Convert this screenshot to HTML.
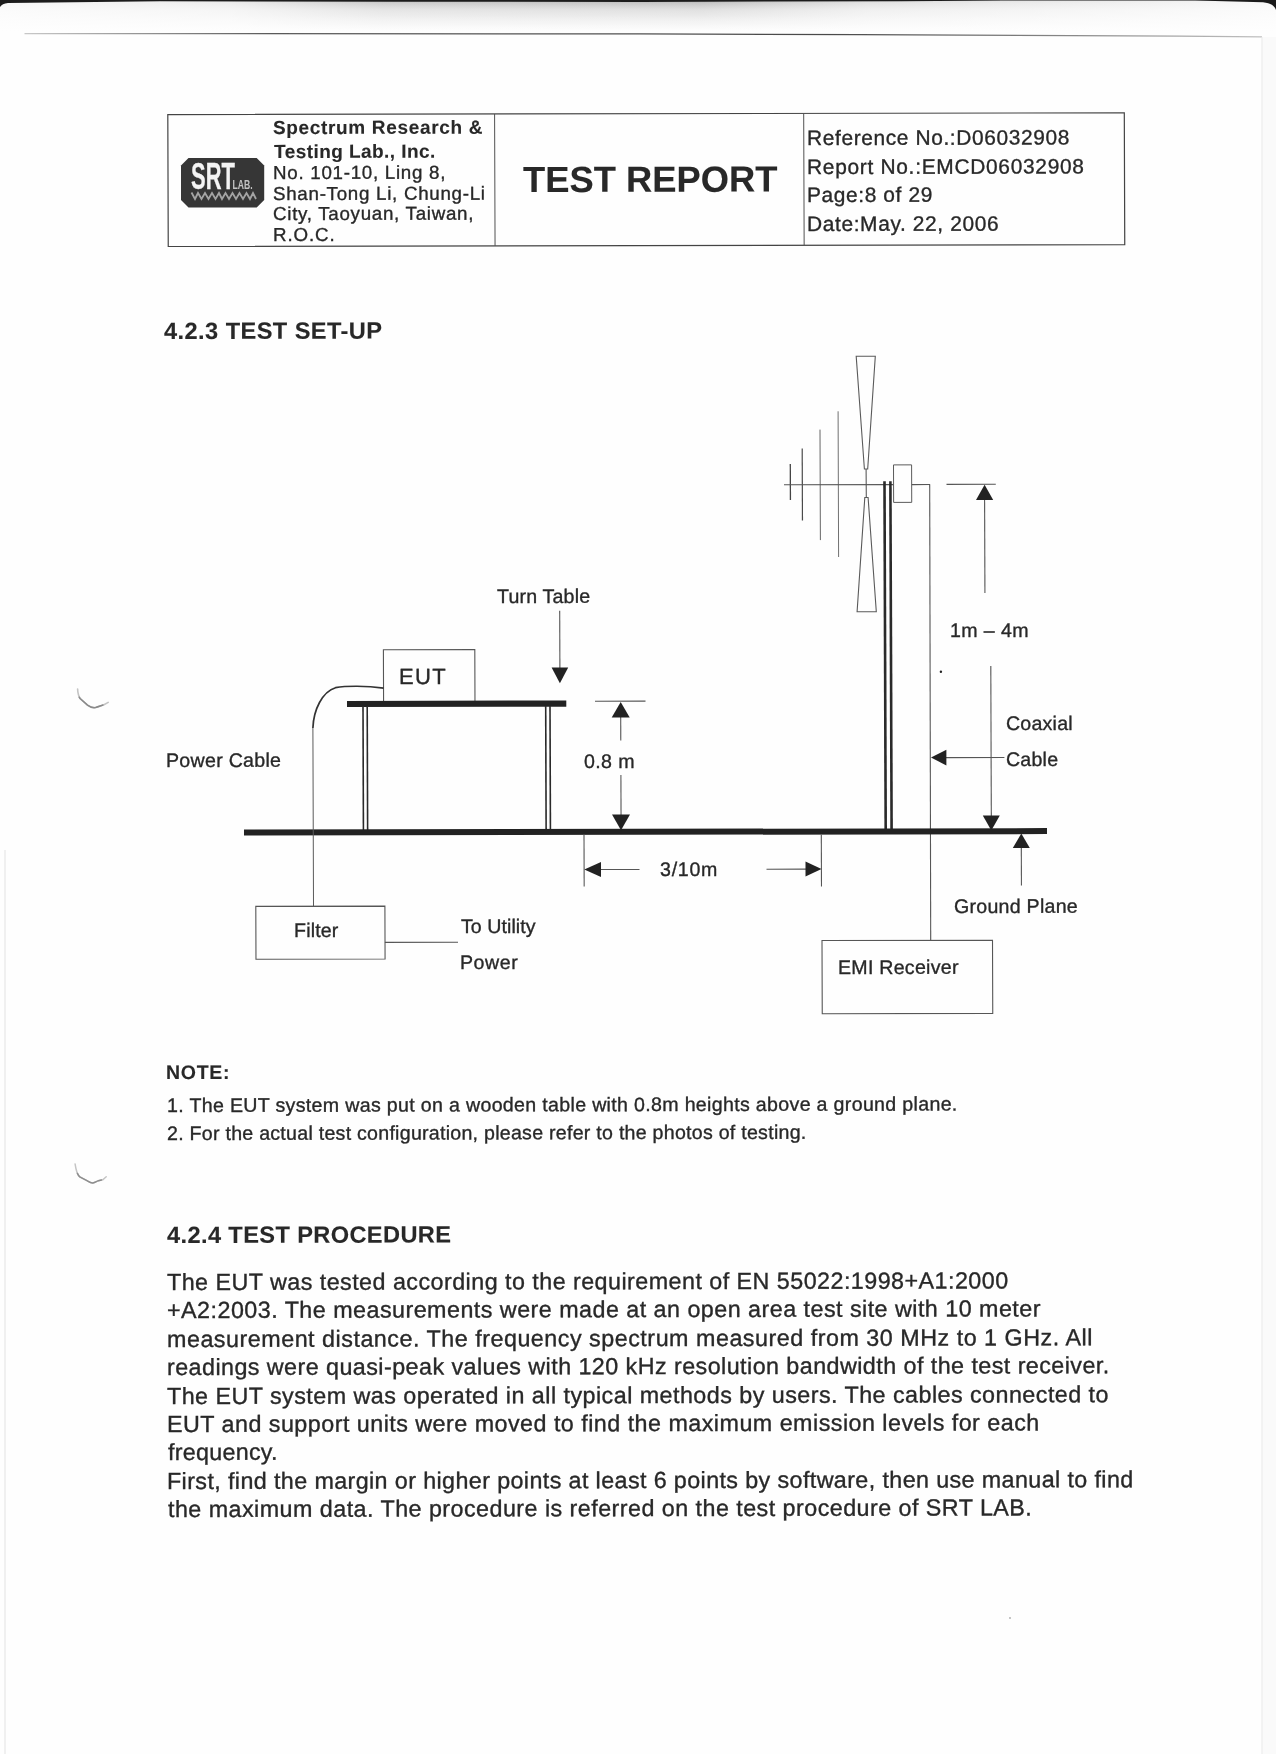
<!DOCTYPE html>
<html><head><meta charset="utf-8"><title>Test Report</title>
<style>
html,body{margin:0;padding:0;background:#fefefe;}
body{width:1276px;height:1754px;position:relative;overflow:hidden;background:#fefefe;font-family:"Liberation Sans",sans-serif;}
.t{position:absolute;white-space:pre;line-height:1;font-family:"Liberation Sans",sans-serif;transform:skewY(-0.1071deg);-webkit-text-stroke:0.35px #282828;}
.abs{position:absolute;}
#pg{position:absolute;left:0;top:0;width:1276px;height:1754px;filter:blur(0.45px);}
</style></head><body>
<!-- scan edge artifacts -->
<svg class="abs" style="left:0;top:0" width="1276" height="1754" viewBox="0 0 1276 1754">
<defs>
  <linearGradient id="gv" x1="0" y1="0" x2="0" y2="1">
    <stop offset="0" stop-color="#a8a8a8"/>
    <stop offset="0.1" stop-color="#c4c4c4"/>
    <stop offset="0.3" stop-color="#dedede"/>
    <stop offset="0.65" stop-color="#f0f0f0"/>
    <stop offset="1" stop-color="#fefefe"/>
  </linearGradient>
  <linearGradient id="gh" x1="0" y1="0" x2="1" y2="0">
    <stop offset="0" stop-color="#fefefe" stop-opacity="0.9"/>
    <stop offset="0.18" stop-color="#fefefe" stop-opacity="0.72"/>
    <stop offset="0.3" stop-color="#fefefe" stop-opacity="0.2"/>
    <stop offset="0.55" stop-color="#fefefe" stop-opacity="0.05"/>
    <stop offset="0.68" stop-color="#fefefe" stop-opacity="0.55"/>
    <stop offset="1" stop-color="#fefefe" stop-opacity="0.9"/>
  </linearGradient>
  <linearGradient id="gl" x1="0" y1="0" x2="1" y2="0">
    <stop offset="0" stop-color="#c8c8c8"/><stop offset="0.2" stop-color="#5a5a5a"/><stop offset="0.65" stop-color="#4a4a4a"/><stop offset="0.85" stop-color="#8a8a8a"/><stop offset="1" stop-color="#c0c0c0"/>
  </linearGradient>
</defs>
<rect x="0" y="0" width="1276" height="31" fill="url(#gv)"/>
<rect x="0" y="0" width="1276" height="32" fill="url(#gh)"/>
<!-- dark top rim -->
<path d="M0,0 L1010,0 L1010,0.5 L900,1.3 L640,1.9 L400,1.7 L160,1.3 L30,2.7 L8,3.1 C4,3.5 1.5,5 0,7 Z" fill="#1c1c1c"/>
<rect x="1000" y="0" width="220" height="1" fill="#7c7c7c"/>
<path d="M1195,0 L1276,0 L1276,10 C1274.5,6 1271,3 1263,2.2 L1215,1.0 Z" fill="#1a1a1a"/>
<!-- thin fold line -->
<path d="M24.5,33.6 L500,33.8 L640,33.95 L860,34.6 L1180,36.1 L1262,36.8" fill="none" stroke="url(#gl)" stroke-width="1.3"/>
<!-- right / left faint edges -->
<rect x="1262" y="37" width="14" height="1717" fill="#fafafa"/>
<line x1="1262" y1="37" x2="1262" y2="1754" stroke="#e9e9e9" stroke-width="1"/>
<line x1="5" y1="850" x2="5" y2="1754" stroke="#ebebeb" stroke-width="1.5"/>
<!-- punch-hole shadows -->
<path d="M77.6,689 C77.8,693 78.6,696.3 80.2,698.6 L87.5,705.1 C90,707 93,708 95.6,707.5 C98.6,706.8 101,705.5 104,704.8 L108.2,702.4" fill="none" stroke="#c4c4c4" stroke-width="1.6" stroke-linecap="round"/>
<path d="M79.2,697.2 C79.6,698 80,698.4 80.4,698.8 L87.5,705.1 C90,707 93,708 95.6,707.5 C98.6,706.8 100.5,705.7 103,705" fill="none" stroke="#8a8a8a" stroke-width="1.5" stroke-linecap="round"/>
<path d="M75.1,1164 C75.6,1167.5 76.2,1170 77,1172.4 C77.8,1174.4 78.6,1175.8 79.8,1176.9 L87.4,1180.9 C89.5,1182.2 91,1183.2 92.8,1183 C95,1182.6 96.5,1181.4 98.4,1180.7 L102.8,1179.7 L106.2,1176.8" fill="none" stroke="#c4c4c4" stroke-width="1.5" stroke-linecap="round"/>
<path d="M77.4,1173.4 C78,1174.8 78.8,1176 79.8,1176.9 L87.4,1180.9 C89.5,1182.2 91,1183.2 92.8,1183 C95,1182.6 96.5,1181.4 98.4,1180.7 L101.5,1180" fill="none" stroke="#8e8e8e" stroke-width="1.4" stroke-linecap="round"/>
<circle cx="1010" cy="1618" r="0.9" fill="#aaa"/>
</svg>

<div id="pg">
<svg class="abs" style="left:0;top:0" width="1276" height="1754" viewBox="0 0 1276 1754" fill="none">
<polygon points="167.80,114.60 1124.30,112.81 1124.75,244.71 168.25,246.50" fill="none" stroke="#444" stroke-width="1.2"/>
<line x1="494.60" y1="114.0" x2="495.05" y2="245.9" stroke="#505050" stroke-width="1"/>
<line x1="803.70" y1="113.4" x2="804.15" y2="245.3" stroke="#505050" stroke-width="1"/>
<path d="M856.2,356.3 L875.3,356.3 L867.7,469 L864.4,469 Z M866.1,469 L866.3,497.5 M864.8,497.5 L868.1,497.5 L876.3,611.7 L857.1,611.7 Z" stroke="#5a5a5a" stroke-width="1.1"/>
<line x1="790.30" y1="464.0" x2="790.42" y2="500.0" stroke="#444" stroke-width="1.3"/>
<line x1="802.20" y1="448.5" x2="802.45" y2="520.6" stroke="#4a4a4a" stroke-width="1.2"/>
<line x1="820.00" y1="429.6" x2="820.38" y2="540.1" stroke="#666" stroke-width="1"/>
<line x1="838.10" y1="411.3" x2="838.60" y2="557.0" stroke="#707070" stroke-width="1"/>
<line x1="784.0" y1="484.80" x2="893.5" y2="484.60" stroke="#565656" stroke-width="1.1"/>
<polygon points="893.50,464.90 911.60,464.87 911.73,502.37 893.63,502.40" fill="#fefefe" stroke="#5a5a5a" stroke-width="1"/>
<line x1="911.8" y1="484.60" x2="930.0" y2="484.57" stroke="#565656" stroke-width="1.1"/>
<line x1="929.7" y1="484.2" x2="930.7" y2="940.5" stroke="#565656" stroke-width="1.1"/>
<line x1="884.50" y1="481.3" x2="885.69" y2="830.0" stroke="#2a2a2a" stroke-width="2.6"/>
<line x1="890.40" y1="481.3" x2="891.59" y2="830.0" stroke="#2a2a2a" stroke-width="2.6"/>
<line x1="946.5" y1="484.40" x2="995.8" y2="484.31" stroke="#565656" stroke-width="1.1"/>
<line x1="984.60" y1="499.0" x2="984.92" y2="593.0" stroke="#565656" stroke-width="1.1"/>
<polygon points="984.6,484.8 976.0,500.1 993.2,500.1" fill="#222"/>
<line x1="990.80" y1="666.0" x2="991.31" y2="816.0" stroke="#565656" stroke-width="1.1"/>
<polygon points="991.3,830.4 982.8,815.6 999.8,815.6" fill="#222"/>
<polygon points="383.40,649.70 474.80,649.53 474.98,701.33 383.58,701.50" fill="none" stroke="#565656" stroke-width="1.1"/>
<line x1="347.0" y1="704.00" x2="566.3" y2="703.59" stroke="#222" stroke-width="6.2"/>
<line x1="363.00" y1="706.0" x2="363.42" y2="830.0" stroke="#2a2a2a" stroke-width="1.6"/>
<line x1="367.20" y1="706.0" x2="367.62" y2="830.0" stroke="#2a2a2a" stroke-width="1.6"/>
<line x1="545.70" y1="706.0" x2="546.12" y2="830.0" stroke="#2a2a2a" stroke-width="1.6"/>
<line x1="550.00" y1="706.0" x2="550.42" y2="830.0" stroke="#2a2a2a" stroke-width="1.6"/>
<line x1="244.0" y1="832.60" x2="1047.0" y2="831.10" stroke="#222" stroke-width="6.0"/>
<path d="M313.5,906 L312.9,728" stroke="#5a5a5a" stroke-width="1"/><path d="M312.9,728 C313.3,717 316,709 319.5,702.5 C323.5,695 328,690 335.5,687.7 C346,685.8 366,685.6 383.6,688.2" stroke="#333" stroke-width="1.7"/>
<polygon points="255.80,906.40 384.90,906.16 385.08,959.06 255.98,959.30" fill="none" stroke="#565656" stroke-width="1.1"/>
<line x1="384.9" y1="942.40" x2="458.0" y2="942.26" stroke="#565656" stroke-width="1.1"/>
<line x1="559.70" y1="610.7" x2="559.89" y2="668.0" stroke="#565656" stroke-width="1.1"/>
<polygon points="559.9,683.2 551.6,667.5 568.2,667.5" fill="#222"/>
<line x1="595.0" y1="701.20" x2="645.5" y2="701.11" stroke="#565656" stroke-width="1.1"/>
<line x1="620.70" y1="716.0" x2="620.78" y2="740.5" stroke="#565656" stroke-width="1.1"/>
<polygon points="620.7,702.0 611.7,717.5 629.7,717.5" fill="#222"/>
<line x1="620.90" y1="775.0" x2="621.04" y2="816.0" stroke="#565656" stroke-width="1.1"/>
<polygon points="621.0,830.3 612.0,814.6 630.0,814.6" fill="#222"/>
<line x1="584.00" y1="834.5" x2="584.18" y2="886.5" stroke="#565656" stroke-width="1.1"/>
<line x1="821.30" y1="834.5" x2="821.48" y2="886.5" stroke="#565656" stroke-width="1.1"/>
<line x1="600.0" y1="869.50" x2="639.5" y2="869.43" stroke="#565656" stroke-width="1.1"/>
<polygon points="584.3,869.5 601.0,862.0 601.0,877.0" fill="#222"/>
<line x1="766.5" y1="869.20" x2="806.0" y2="869.13" stroke="#565656" stroke-width="1.1"/>
<polygon points="821.5,869.1 805.5,861.6 805.5,876.6" fill="#222"/>
<line x1="946.0" y1="757.60" x2="1004.4" y2="757.49" stroke="#565656" stroke-width="1.1"/>
<polygon points="931.0,757.6 946.4,749.8 946.4,765.4" fill="#222"/>
<line x1="1021.30" y1="847.0" x2="1021.43" y2="885.4" stroke="#565656" stroke-width="1.1"/>
<polygon points="1021.3,833.5 1012.8,848.0 1029.8,848.0" fill="#222"/>
<polygon points="822.00,940.50 992.50,940.18 992.75,1013.38 822.25,1013.70" fill="none" stroke="#565656" stroke-width="1.1"/>
<circle cx="940.9" cy="671.7" r="1.2" fill="#222"/>
<g>
  <polygon points="188.5,158 256.7,158 264.2,165.5 264.2,200.1 256.7,207.6 188.5,207.6 181,200.1 181,165.5" fill="#363636"/>
  <g fill="#f4f4f4" font-family="Liberation Sans, sans-serif" font-weight="bold">
    <text transform="translate(191.0,189.3) scale(0.585,1)" font-size="37.5" stroke="#f4f4f4" stroke-width="0.3">SRT</text>
    <text transform="translate(232.6,188.5) scale(0.72,1)" font-size="12" fill="#c4c4c4">LAB.</text>
  </g>
  <polyline fill="none" stroke="#a4a4a4" stroke-width="1.8" points="191.5,192.5 195,199 198,193 201.5,199 205,193 208.5,199 212,193 215.5,199 219,193 222,199 225.5,193 229,199 232.5,193 236,199 239.5,193 243,199 246.5,193 250,199 253,193 256,199"/>
</g>
</svg>
<div class="t" style="left:272.85px;top:118.30px;font-size:19px;letter-spacing:0.660px;color:#282828;transform-origin:0 16px;font-weight:bold;-webkit-text-stroke-width:0.12px;">Spectrum Research &amp;</div>
<div class="t" style="left:273.79px;top:142.30px;font-size:19px;letter-spacing:0.444px;color:#282828;transform-origin:0 16px;font-weight:bold;-webkit-text-stroke-width:0.12px;">Testing Lab., Inc.</div>
<div class="t" style="left:272.66px;top:164.00px;font-size:18.75px;letter-spacing:0.718px;color:#282828;transform-origin:0 15px;">No. 101-10, Ling 8,</div>
<div class="t" style="left:273.05px;top:184.70px;font-size:18.75px;letter-spacing:0.714px;color:#282828;transform-origin:0 15px;">Shan-Tong Li, Chung-Li</div>
<div class="t" style="left:272.85px;top:205.40px;font-size:18.75px;letter-spacing:0.710px;color:#282828;transform-origin:0 15px;">City, Taoyuan, Taiwan,</div>
<div class="t" style="left:272.96px;top:226.10px;font-size:18.75px;letter-spacing:0.871px;color:#282828;transform-origin:0 15px;">R.O.C.</div>
<div class="t" style="left:522.89px;top:162.30px;font-size:36.3px;letter-spacing:0.039px;color:#282828;transform-origin:0 30px;font-weight:bold;-webkit-text-stroke-width:0.12px;">TEST REPORT</div>
<div class="t" style="left:807.09px;top:127.60px;font-size:20.9px;letter-spacing:0.626px;color:#282828;transform-origin:0 17px;">Reference No.:D06032908</div>
<div class="t" style="left:807.09px;top:156.90px;font-size:20.9px;letter-spacing:0.711px;color:#282828;transform-origin:0 17px;">Report No.:EMCD06032908</div>
<div class="t" style="left:807.09px;top:185.30px;font-size:20.9px;letter-spacing:0.620px;color:#282828;transform-origin:0 17px;">Page:8 of 29</div>
<div class="t" style="left:807.09px;top:213.80px;font-size:20.9px;letter-spacing:0.632px;color:#282828;transform-origin:0 17px;">Date:May. 22, 2006</div>
<div class="t" style="left:164.04px;top:319.90px;font-size:23.6px;letter-spacing:0.435px;color:#282828;transform-origin:0 19px;font-weight:bold;-webkit-text-stroke-width:0.12px;">4.2.3 TEST SET-UP</div>
<div class="t" style="left:165.60px;top:1062.50px;font-size:19.5px;letter-spacing:0.702px;color:#282828;transform-origin:0 16px;font-weight:bold;-webkit-text-stroke-width:0.12px;">NOTE:</div>
<div class="t" style="left:167.11px;top:1095.90px;font-size:19.6px;letter-spacing:0.322px;color:#282828;transform-origin:0 16px;">1. The EUT system was put on a wooden table with 0.8m heights above a ground plane.</div>
<div class="t" style="left:167.01px;top:1124.10px;font-size:19.6px;letter-spacing:0.260px;color:#282828;transform-origin:0 16px;">2. For the actual test configuration, please refer to the photos of testing.</div>
<div class="t" style="left:166.84px;top:1223.90px;font-size:23.6px;letter-spacing:0.386px;color:#282828;transform-origin:0 19px;font-weight:bold;-webkit-text-stroke-width:0.12px;">4.2.4 TEST PROCEDURE</div>
<div class="t" style="left:167.38px;top:1271.00px;font-size:23.3px;letter-spacing:0.462px;color:#282828;transform-origin:0 19px;">The EUT was tested according to the requirement of EN 55022:1998+A1:2000</div>
<div class="t" style="left:167.36px;top:1299.40px;font-size:23.3px;letter-spacing:0.472px;color:#282828;transform-origin:0 19px;">+A2:2003. The measurements were made at an open area test site with 10 meter</div>
<div class="t" style="left:166.95px;top:1327.80px;font-size:23.3px;letter-spacing:0.514px;color:#282828;transform-origin:0 19px;">measurement distance. The frequency spectrum measured from 30 MHz to 1 GHz. All</div>
<div class="t" style="left:166.95px;top:1356.20px;font-size:23.3px;letter-spacing:0.446px;color:#282828;transform-origin:0 19px;">readings were quasi-peak values with 120 kHz resolution bandwidth of the test receiver.</div>
<div class="t" style="left:167.38px;top:1384.60px;font-size:23.3px;letter-spacing:0.464px;color:#282828;transform-origin:0 19px;">The EUT system was operated in all typical methods by users. The cables connected to</div>
<div class="t" style="left:166.99px;top:1413.00px;font-size:23.3px;letter-spacing:0.476px;color:#282828;transform-origin:0 19px;">EUT and support units were moved to find the maximum emission levels for each</div>
<div class="t" style="left:167.87px;top:1441.40px;font-size:23.3px;letter-spacing:0.266px;color:#282828;transform-origin:0 19px;">frequency.</div>
<div class="t" style="left:166.99px;top:1469.80px;font-size:23.3px;letter-spacing:0.392px;color:#282828;transform-origin:0 19px;">First, find the margin or higher points at least 6 points by software, then use manual to find</div>
<div class="t" style="left:167.85px;top:1498.20px;font-size:23.3px;letter-spacing:0.461px;color:#282828;transform-origin:0 19px;">the maximum data. The procedure is referred on the test procedure of SRT LAB.</div>
<div class="t" style="left:497.36px;top:586.60px;font-size:19.6px;letter-spacing:0.179px;color:#282828;transform-origin:0 16px;">Turn Table</div>
<div class="t" style="left:399.10px;top:665.60px;font-size:22px;letter-spacing:1.355px;color:#282828;transform-origin:0 18px;">EUT</div>
<div class="t" style="left:165.79px;top:750.80px;font-size:19.6px;letter-spacing:0.279px;color:#282828;transform-origin:0 16px;">Power Cable</div>
<div class="t" style="left:584.03px;top:751.60px;font-size:19.6px;letter-spacing:0.361px;color:#282828;transform-origin:0 16px;">0.8 m</div>
<div class="t" style="left:659.55px;top:859.70px;font-size:19.6px;letter-spacing:0.742px;color:#282828;transform-origin:0 16px;">3/10m</div>
<div class="t" style="left:293.69px;top:921.30px;font-size:19.6px;letter-spacing:0.157px;color:#282828;transform-origin:0 16px;">Filter</div>
<div class="t" style="left:460.56px;top:917.10px;font-size:19.6px;letter-spacing:0.050px;color:#282828;transform-origin:0 16px;">To Utility</div>
<div class="t" style="left:459.89px;top:952.60px;font-size:19.6px;letter-spacing:0.547px;color:#282828;transform-origin:0 16px;">Power</div>
<div class="t" style="left:837.89px;top:958.30px;font-size:19.6px;letter-spacing:0.258px;color:#282828;transform-origin:0 16px;">EMI Receiver</div>
<div class="t" style="left:1006.20px;top:713.70px;font-size:19.6px;letter-spacing:0.208px;color:#282828;transform-origin:0 16px;">Coaxial</div>
<div class="t" style="left:1006.20px;top:749.70px;font-size:19.6px;letter-spacing:0.216px;color:#282828;transform-origin:0 16px;">Cable</div>
<div class="t" style="left:954.41px;top:897.00px;font-size:19.6px;letter-spacing:0.258px;color:#282828;transform-origin:0 16px;">Ground Plane</div>
<div class="t" style="left:950.31px;top:620.80px;font-size:19.6px;letter-spacing:0.392px;color:#282828;transform-origin:0 16px;">1m – 4m</div>
</div>
</body></html>
